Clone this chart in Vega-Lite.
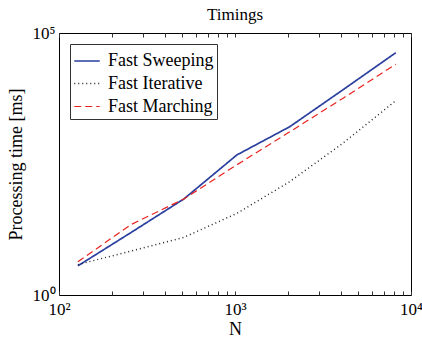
{
  "$schema": "https://vega.github.io/schema/vega-lite/v6.json",
  "width": 352,
  "height": 262,
  "autosize": {"type": "none"},
  "padding": {"left": 59, "top": 33, "right": 11, "bottom": 44},
  "background": "white",
  "title": {"text": "Timings", "font": "Liberation Serif", "fontSize": 17, "fontWeight": "normal", "color": "black", "offset": 0},
  "config": {
    "font": "Liberation Serif",
    "view": {"stroke": "black", "strokeWidth": 1},
    "axis": {"labelFont": "Liberation Serif", "titleFont": "Liberation Serif", "labelColor": "black", "titleColor": "black", "grid": false, "domain": false, "tickColor": "#333"},
    "legend": {"labelFont": "Liberation Serif", "labelFontSize": 18, "labelColor": "black"}
  },
  "data": {"values": [
    {"N": 128, "time": 3.6, "method": "Fast Sweeping"},
    {"N": 256, "time": 15.5, "method": "Fast Sweeping"},
    {"N": 512, "time": 68, "method": "Fast Sweeping"},
    {"N": 1024, "time": 470, "method": "Fast Sweeping"},
    {"N": 2048, "time": 1630, "method": "Fast Sweeping"},
    {"N": 4096, "time": 8200, "method": "Fast Sweeping"},
    {"N": 8192, "time": 42000, "method": "Fast Sweeping"},
    {"N": 128, "time": 3.8, "method": "Fast Iterative"},
    {"N": 256, "time": 6.9, "method": "Fast Iterative"},
    {"N": 512, "time": 12.6, "method": "Fast Iterative"},
    {"N": 1024, "time": 36, "method": "Fast Iterative"},
    {"N": 2048, "time": 146, "method": "Fast Iterative"},
    {"N": 4096, "time": 785, "method": "Fast Iterative"},
    {"N": 8192, "time": 5100, "method": "Fast Iterative"},
    {"N": 128, "time": 4.3, "method": "Fast Marching"},
    {"N": 256, "time": 22, "method": "Fast Marching"},
    {"N": 512, "time": 68, "method": "Fast Marching"},
    {"N": 1024, "time": 305, "method": "Fast Marching"},
    {"N": 2048, "time": 1300, "method": "Fast Marching"},
    {"N": 4096, "time": 5650, "method": "Fast Marching"},
    {"N": 8192, "time": 25300, "method": "Fast Marching"}
  ]},
  "layer": [
    {
      "mark": {"type": "line", "clip": true},
      "encoding": {
        "x": {"field": "N", "type": "quantitative",
          "scale": {"type": "log", "domain": [100, 10000], "nice": false},
          "axis": {"title": "N", "titleFontSize": 18, "titleFontWeight": "normal", "titlePadding": 3,
            "values": [100,200,300,400,500,600,700,800,900,1000,2000,3000,4000,5000,6000,7000,8000,9000,10000],
            "labelExpr": "datum.value == 100 ? '10²' : datum.value == 1000 ? '10³' : datum.value == 10000 ? '10⁴' : ''",
            "labelFontSize": 17, "tickSize": -4, "labelPadding": 10, "labelFlush": false, "labelOverlap": false}
        },
        "y": {"field": "time", "type": "quantitative",
          "scale": {"type": "log", "domain": [1, 100000], "nice": false},
          "axis": {"title": "Processing time [ms]", "titleFontSize": 18, "titleFontWeight": "normal", "titlePadding": 7,
            "values": [1, 100000],
            "labelExpr": "datum.value == 1 ? '10⁰' : '10⁵'",
            "labelFontSize": 17, "ticks": false, "labelPadding": 4, "labelFlush": false, "labelBaseline": "middle", "labelOverlap": false}
        },
        "color": {"field": "method", "type": "nominal",
          "scale": {"domain": ["Fast Sweeping", "Fast Iterative", "Fast Marching"], "range": ["#2a3f9e", "#222222", "#e8231f"]},
          "legend": {"orient": "none", "legendX": 11, "legendY": 11, "title": null,
            "labelFont": "Liberation Serif", "labelFontSize": 18, "labelColor": "black",
            "symbolType": "stroke", "symbolSize": 650, "symbolStrokeWidth": 1.7,
            "strokeColor": "#333", "fillColor": "white", "padding": 3, "rowPadding": -4, "labelOffset": 7}
        },
        "strokeDash": {"field": "method", "type": "nominal",
          "scale": {"domain": ["Fast Sweeping", "Fast Iterative", "Fast Marching"], "range": [[1, 0], [1, 3], [7, 4]]},
          "legend": null
        },
        "strokeWidth": {"field": "method", "type": "nominal",
          "scale": {"domain": ["Fast Sweeping", "Fast Iterative", "Fast Marching"], "range": [1.7, 1.2, 2]},
          "legend": null
        }
      }
    },
    {
      "mark": {"type": "rule", "opacity": 0},
      "encoding": {
        "x": {"field": "N", "type": "quantitative",
          "axis": {"orient": "top", "title": null, "labels": false,
            "values": [100,200,300,400,500,600,700,800,900,1000,2000,3000,4000,5000,6000,7000,8000,9000,10000],
            "tickSize": -4}
        }
      }
    }
  ],
  "resolve": {"axis": {"x": "independent"}}
}
